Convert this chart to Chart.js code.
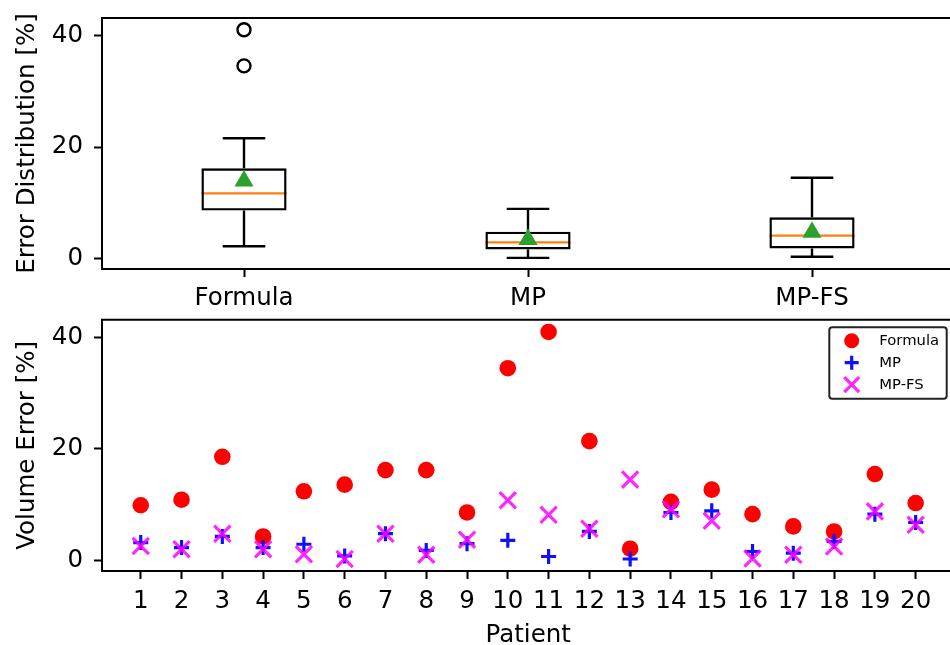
<!DOCTYPE html>
<html>
<head>
<meta charset="utf-8">
<script src="https://cdn.jsdelivr.net/npm/chart.js@4.4.1/dist/chart.umd.min.js"></script>
<style>
  html, body { margin: 0; background: #fff; overflow: hidden; width: 950px; height: 645px; }
  #wrap { position: relative; width: 950px; height: 645px; overflow: hidden; }
  .box { position: absolute; left: 0; width: 956px; }
</style>
</head>
<body>
<div id="wrap">
  <div class="box" style="top:0"><canvas id="boxChart" width="956" height="310"></canvas></div>
  <div class="box" style="top:310px"><canvas id="scatterChart" width="956" height="335"></canvas></div>
</div>
<script>
// methods compared
const methods = ["Formula", "MP", "MP-FS"];

// box plot stats
const whiskerLow = [2.2, 0.1, 0.3];
const q1 = [8.6, 1.6, 1.8];
const median = [11.7, 2.9, 4.1];
const q3 = [16.2, 4.8, 7.4];
const whiskerHigh = [21.6, 8.9, 14.5];
const means = [13.9, 3.4, 4.7];
const outliers = [[41.1, 34.6], [], []];

// per-patient volume error [%]
const patients = Array.from({ length: 20 }, (_, i) => i + 1);
const formulaErr = [9.9, 10.9, 18.6, 4.3, 12.4, 13.6, 16.2, 16.2, 8.6, 34.5,
                    41.0, 21.4, 2.1, 10.5, 12.7, 8.3, 6.1, 5.2, 15.5, 10.3];
const mpErr = [3.2, 2.3, 4.3, 2.3, 2.9, 0.8, 4.8, 1.8, 3.0, 3.6,
               0.7, 5.2, 0.25, 8.6, 8.9, 1.6, 1.3, 3.4, 8.3, 6.8];
const mpfsErr = [2.6, 2.0, 4.8, 2.0, 1.1, 0.25, 4.8, 1.0, 3.7, 10.8,
                 8.2, 5.7, 14.5, 9.2, 7.1, 0.35, 1.0, 2.5, 8.8, 6.4];

const yTicks = [0, 20, 40];

const FONT = "'DejaVu Sans', sans-serif";
const FS = 24.5;
Chart.defaults.font.family = FONT;
Chart.defaults.color = "#000";
Chart.defaults.animation = false;

// scales should not push the plot area around for their end labels
function noPad(scale) {
  scale.paddingTop = 0;
  scale.paddingBottom = 0;
  scale.paddingLeft = 0;
  scale.paddingRight = 0;
}

// frame round the plot area (right side falls off the cropped figure)
const framePlugin = {
  id: "frame",
  afterDraw(chart) {
    const { ctx, chartArea: a } = chart;
    ctx.save();
    ctx.strokeStyle = "#000";
    ctx.lineWidth = 2;
    ctx.beginPath();
    ctx.moveTo(a.right + 2, a.top);
    ctx.lineTo(a.left, a.top);
    ctx.lineTo(a.left, a.bottom);
    ctx.lineTo(a.right + 2, a.bottom);
    ctx.stroke();
    ctx.restore();
  }
};

// whiskers, caps and medians of the box plot
const whiskerPlugin = {
  id: "whiskers",
  beforeDatasetsDraw(chart) {
    const { ctx, scales: { x, y } } = chart;
    const half = 0.15;
    ctx.save();
    methods.forEach((m, i) => {
      const pos = i + 1;
      const cx = x.getPixelForValue(pos);
      const capL = x.getPixelForValue(pos - half / 2);
      const capR = x.getPixelForValue(pos + half / 2);
      ctx.strokeStyle = "#000";
      ctx.lineWidth = 2.4;
      ctx.beginPath();
      ctx.moveTo(cx, y.getPixelForValue(q3[i]));
      ctx.lineTo(cx, y.getPixelForValue(whiskerHigh[i]));
      ctx.moveTo(cx, y.getPixelForValue(q1[i]));
      ctx.lineTo(cx, y.getPixelForValue(whiskerLow[i]));
      ctx.moveTo(capL, y.getPixelForValue(whiskerHigh[i]));
      ctx.lineTo(capR, y.getPixelForValue(whiskerHigh[i]));
      ctx.moveTo(capL, y.getPixelForValue(whiskerLow[i]));
      ctx.lineTo(capR, y.getPixelForValue(whiskerLow[i]));
      ctx.stroke();
      ctx.strokeStyle = "#ff7f0e";
      ctx.lineWidth = 2.2;
      ctx.beginPath();
      ctx.moveTo(x.getPixelForValue(pos - half), y.getPixelForValue(median[i]));
      ctx.lineTo(x.getPixelForValue(pos + half), y.getPixelForValue(median[i]));
      ctx.stroke();
    });
    ctx.restore();
  }
};

function yAxis(title) {
  return {
    type: "linear",
    min: -1.9,
    max: 43.2,
    afterFit(scale) { scale.width = 102; noPad(scale); },
    afterBuildTicks(scale) { scale.ticks = yTicks.map(v => ({ value: v })); },
    border: { display: false },
    grid: { drawOnChartArea: false, offset: false, tickLength: 8, tickWidth: 2, tickColor: "#000" },
    ticks: { font: { size: FS }, padding: 11, color: "#000" },
    title: { display: true, text: title, font: { size: FS, lineHeight: 1.2 }, padding: { top: 13, bottom: 0 }, color: "#000" }
  };
}

new Chart(document.getElementById("boxChart"), {
  data: {
    datasets: [
      {
        type: "bar",
        label: "box",
        data: methods.map((m, i) => ({ x: i + 1, y: [q1[i], q3[i]] })),
        backgroundColor: "rgba(0,0,0,0)",
        borderColor: "#000",
        borderWidth: 2.4,
        borderSkipped: false,
        barPercentage: 0.3,
        categoryPercentage: 1,
        order: 3
      },
      {
        type: "scatter",
        label: "outliers",
        data: outliers.flatMap((arr, i) => arr.map(v => ({ x: i + 1, y: v }))),
        pointStyle: "circle",
        pointRadius: 6.5,
        backgroundColor: "rgba(0,0,0,0)",
        borderColor: "#000",
        borderWidth: 2.4,
        order: 2
      },
      {
        type: "scatter",
        label: "mean",
        data: means.map((v, i) => ({ x: i + 1, y: v })),
        pointStyle: "triangle",
        pointRadius: 11,
        backgroundColor: "#2ca02c",
        borderColor: "#2ca02c",
        borderWidth: 0,
        order: 1
      }
    ]
  },
  options: {
    responsive: false,
    layout: { autoPadding: false, padding: { top: 18, right: 2, left: 0, bottom: 0 } },
    plugins: { legend: { display: false }, tooltip: { enabled: false } },
    scales: {
      x: {
        type: "linear",
        min: 0.5,
        max: 3.5,
        offset: false,
        afterFit(scale) { scale.height = 41; noPad(scale); },
        afterBuildTicks(scale) { scale.ticks = methods.map((m, i) => ({ value: i + 1 })); },
        border: { display: false },
        grid: { drawOnChartArea: false, offset: false, tickLength: 8, tickWidth: 2, tickColor: "#000" },
        ticks: { font: { size: FS }, padding: 7, color: "#000", maxRotation: 0,
                 callback: (v) => methods[Math.round(v) - 1] }
      },
      y: yAxis("Error Distribution [%]")
    }
  },
  plugins: [whiskerPlugin, framePlugin]
});

const series = [
  { label: "Formula", values: formulaErr, style: "circle", radius: 8.3, color: "#ff0000", width: 0 },
  { label: "MP", values: mpErr, style: "cross", radius: 7.5, color: "#1010ff", width: 3.2 },
  { label: "MP-FS", values: mpfsErr, style: "crossRot", radius: 11.5, color: "rgba(255,0,255,0.85)", width: 3.2 }
];

// legend box in the upper right of the plot area
const legendPlugin = {
  id: "boxLegend",
  afterDraw(chart) {
    const { ctx, chartArea: a } = chart;
    const right = a.right - 7.7, top = a.top + 7.6, w = 117.4, h = 71.4;
    const left = right - w;
    ctx.save();
    ctx.fillStyle = "#fff";
    ctx.strokeStyle = "#222";
    ctx.lineWidth = 2;
    ctx.beginPath();
    ctx.roundRect(left, top, w, h, 3);
    ctx.fill();
    ctx.stroke();
    series.forEach((s, i) => {
      const my = top + 13.4 + i * 22;
      const mx = left + 22.4;
      ctx.fillStyle = s.color;
      ctx.strokeStyle = s.color;
      ctx.lineWidth = s.width;
      ctx.beginPath();
      if (s.style === "circle") {
        ctx.arc(mx, my, 7.5, 0, Math.PI * 2);
        ctx.fill();
      } else if (s.style === "cross") {
        ctx.moveTo(mx - 7, my); ctx.lineTo(mx + 7, my);
        ctx.moveTo(mx, my - 7); ctx.lineTo(mx, my + 7);
        ctx.stroke();
      } else {
        ctx.moveTo(mx - 7.5, my - 7.5); ctx.lineTo(mx + 7.5, my + 7.5);
        ctx.moveTo(mx - 7.5, my + 7.5); ctx.lineTo(mx + 7.5, my - 7.5);
        ctx.stroke();
      }
      ctx.fillStyle = "#000";
      ctx.font = "14.8px " + FONT;
      ctx.textBaseline = "middle";
      ctx.fillText(s.label, left + 50, my);
    });
    ctx.restore();
  }
};

new Chart(document.getElementById("scatterChart"), {
  type: "scatter",
  data: {
    datasets: series.map((s, k) => ({
      label: s.label,
      data: patients.map((p, i) => ({ x: p, y: s.values[i] })),
      pointStyle: s.style,
      pointRadius: s.radius,
      backgroundColor: s.color,
      borderColor: s.color,
      borderWidth: s.width,
      order: 3 - k
    }))
  },
  options: {
    responsive: false,
    layout: { autoPadding: false, padding: { top: 9.7, right: 1.6, left: 0, bottom: 0 } },
    plugins: { legend: { display: false }, tooltip: { enabled: false } },
    scales: {
      x: {
        type: "linear",
        min: 0.05,
        max: 20.95,
        afterFit(scale) { scale.height = 74; noPad(scale); },
        afterBuildTicks(scale) { scale.ticks = patients.map(p => ({ value: p })); },
        border: { display: false },
        grid: { drawOnChartArea: false, tickLength: 8, tickWidth: 2, tickColor: "#000" },
        ticks: { font: { size: FS }, padding: 8, color: "#000", maxRotation: 0, autoSkip: false },
        title: { display: true, text: "Patient", font: { size: FS, lineHeight: 0.8 }, padding: { top: 0, bottom: 0 }, color: "#000" }
      },
      y: yAxis("Volume Error [%]")
    }
  },
  plugins: [framePlugin, legendPlugin]
});
</script>
</body>
</html>
